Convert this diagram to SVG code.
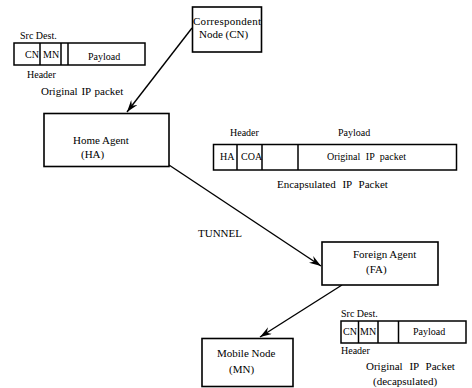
<svg xmlns="http://www.w3.org/2000/svg" width="472" height="388" viewBox="0 0 472 388">
<style>
text{font-family:"Liberation Serif","Times New Roman",serif;fill:#000}
.n{font-size:11px}
.s{font-size:10px}
.box{fill:#fff;stroke:#000;stroke-width:1.6}
.pk{fill:#fff;stroke:#000;stroke-width:1.5}
.dv{stroke:#000;stroke-width:1.5}
.cn{stroke:#000;stroke-width:1.4;fill:none}
</style>
<defs>
<marker id="ah" markerUnits="userSpaceOnUse" markerWidth="12" markerHeight="8" viewBox="0 0 12 8" refX="12" refY="4" orient="auto">
<path d="M0,0 L12,4 L0,8 L4,4 z" fill="#000"/>
</marker>
</defs>
<rect width="472" height="388" fill="#fff"/>

<g id="connectors">
<line class="cn" x1="192" y1="28" x2="127" y2="112" marker-end="url(#ah)"/>
<line class="cn" x1="169" y1="165" x2="321" y2="266" marker-end="url(#ah)"/>
<line class="cn" x1="342" y1="285" x2="260" y2="337" marker-end="url(#ah)"/>
</g>

<g id="cn-node">
<rect class="box" x="192.5" y="7" width="69" height="45"/>
<text class="n" x="193" y="25" textLength="68">Correspondent</text>
<text class="n" x="199" y="38">Node (CN)</text>
</g>

<g id="ha-node">
<rect class="box" x="44" y="113.5" width="125" height="53"/>
<text class="n" x="73" y="144">Home Agent</text>
<text class="n" x="81" y="158">(HA)</text>
</g>

<g id="fa-node">
<rect class="box" x="322" y="242" width="116" height="43"/>
<text class="n" x="353" y="258">Foreign Agent</text>
<text class="n" x="366" y="273">(FA)</text>
</g>

<g id="mn-node">
<rect class="box" x="202" y="338.5" width="91" height="48"/>
<text class="n" x="217" y="357">Mobile Node</text>
<text class="n" x="229" y="373">(MN)</text>
</g>

<g id="packet-original">
<text class="s" x="20" y="39">Src Dest.</text>
<rect class="pk" x="14" y="43" width="131" height="22"/>
<line class="dv" x1="40" y1="43" x2="40" y2="65"/>
<line class="dv" x1="61" y1="43" x2="61" y2="65"/>
<line class="dv" x1="68" y1="43" x2="68" y2="65"/>
<text class="s" x="25" y="58">CN</text>
<text class="s" x="43" y="58">MN</text>
<text class="s" x="88" y="60">Payload</text>
<text class="s" x="27" y="78">Header</text>
<text class="n" x="41" y="95" word-spacing="1">Original IP packet</text>
</g>

<g id="packet-encapsulated">
<text class="s" x="230" y="136">Header</text>
<text class="s" x="338" y="136">Payload</text>
<rect class="pk" x="213.5" y="144.5" width="243" height="25.5"/>
<line class="dv" x1="237" y1="144.5" x2="237" y2="170"/>
<line class="dv" x1="262" y1="144.5" x2="262" y2="170"/>
<line class="dv" x1="298" y1="144.5" x2="298" y2="170"/>
<text class="s" x="220" y="160">HA</text>
<text class="s" x="241" y="160">COA</text>
<text class="s" x="327" y="160" word-spacing="3">Original IP packet</text>
<text class="n" x="277" y="188" word-spacing="4">Encapsulated IP Packet</text>
<text class="n" x="198" y="237">TUNNEL</text>
</g>

<g id="packet-decapsulated">
<text class="s" x="341" y="317">Src Dest.</text>
<rect class="pk" x="341" y="321" width="125" height="22"/>
<text class="s" x="343" y="335">CN</text>
<line class="dv" x1="358.5" y1="321" x2="358.5" y2="343"/>
<line class="dv" x1="378" y1="321" x2="378" y2="343"/>
<line class="dv" x1="398.5" y1="321" x2="398.5" y2="343"/>
<text class="s" x="360" y="335">MN</text>
<text class="s" x="413" y="335">Payload</text>
<text class="s" x="341" y="354">Header</text>
<text class="n" x="366" y="370" word-spacing="4">Original IP Packet</text>
<text class="n" x="373" y="385">(decapsulated)</text>
</g>
</svg>
